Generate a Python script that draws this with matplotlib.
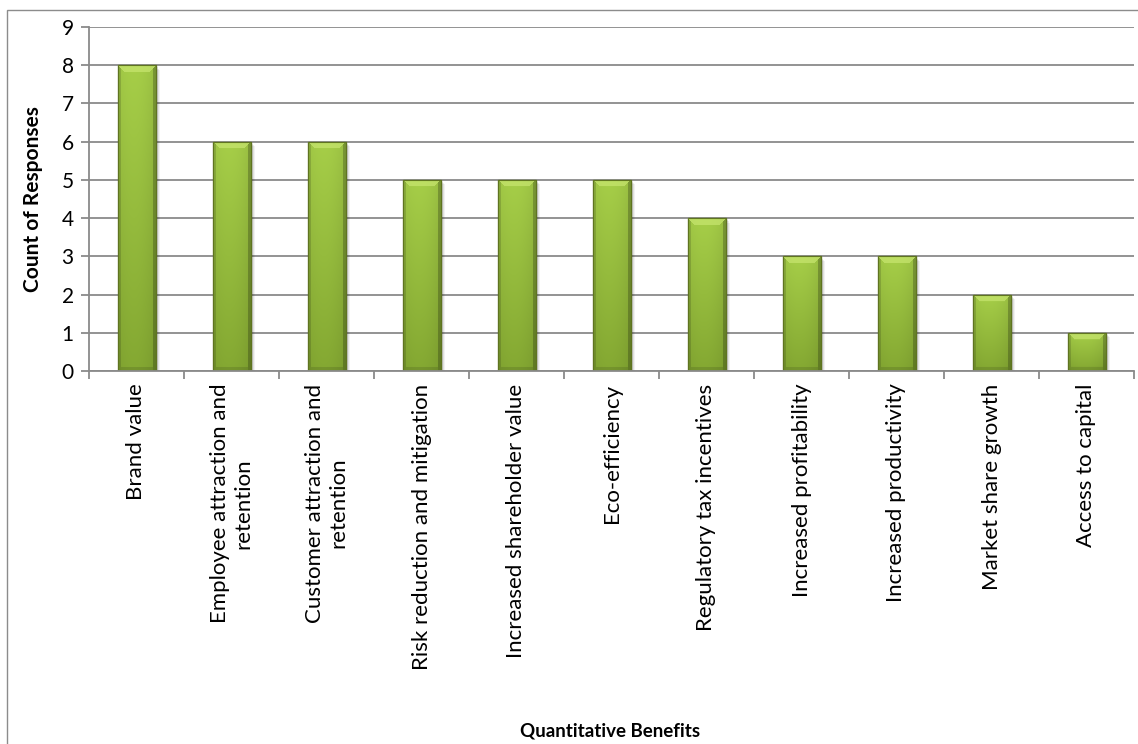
import numpy as np
import matplotlib
matplotlib.use("Agg")
import matplotlib.pyplot as plt
from matplotlib.transforms import offset_copy
from matplotlib.patches import Rectangle

plt.rcParams['font.family'] = ['Lato', 'DejaVu Sans']

categories = [
    "Brand value",
    "Employee attraction and\nretention",
    "Customer attraction and\nretention",
    "Risk reduction and mitigation",
    "Increased shareholder value",
    "Eco-efficiency",
    "Regulatory tax incentives",
    "Increased profitability",
    "Increased productivity",
    "Market share growth",
    "Access to capital",
]
counts = [8, 6, 6, 5, 5, 5, 4, 3, 3, 2, 1]
y_ticks = list(range(0, 10))

W, H = 1138, 744
fig = plt.figure(figsize=(W / 100, H / 100), dpi=100)
ax = fig.add_axes([89 / W, 1 - 371 / H, 1045 / W, 344 / H])

# outer chart border
fig.add_artist(Rectangle((7 / W, -0.01), 1.05, 1 - 10 / H + 0.01,
                         transform=fig.transFigure, fill=False,
                         edgecolor="#8c8c8c", linewidth=1.0))

x = np.arange(len(categories))
bar_w = 0.4
ax.set_xlim(-0.5, len(categories) - 0.5)
ax.set_ylim(0, 9)

# gridlines
for t in y_ticks:
    ax.axhline(t, color="#8a8a8a", linewidth=1.3, zorder=1)

px_per_unit_x = 1045 / len(categories)
px_per_unit_y = 344 / 9


def bar_image(wpx, hpx):
    """Bevelled, shaded fill for one column, built pixel by pixel."""
    wpx = max(int(round(wpx)), 2)
    hpx = max(int(round(hpx)), 2)
    cols = np.linspace(0, 1, wpx)
    rows = np.linspace(0, 1, hpx)
    top = np.array([166, 206, 72]) / 255
    bot = np.array([132, 168, 50]) / 255
    base = top[None, None, :] * (1 - rows[:, None, None]) + bot[None, None, :] * rows[:, None, None]
    base = np.broadcast_to(base, (hpx, wpx, 3)).copy()
    # gentle horizontal shading towards both edges
    shade = 1 - 0.08 * (np.abs(cols - 0.42) / 0.58) ** 2
    img = base * shade[None, :, None]
    b = 7  # bevel size in pixels
    ci = np.arange(wpx)
    ri = np.arange(hpx)
    dl = ci[None, :] * np.ones((hpx, 1))
    dr = (wpx - 1 - ci)[None, :] * np.ones((hpx, 1))
    dt = ri[:, None] * np.ones((1, wpx))
    db = (hpx - 1 - ri)[:, None] * np.ones((1, wpx))
    dmin = np.minimum(np.minimum(dl, dr), np.minimum(dt, db))
    inbev = dmin < b
    topface = inbev & (dt <= np.minimum(dl, dr)) & (dt <= db)
    side_b = 3  # thinner side bevels
    leftface = (dl < side_b) & ~topface
    rightface = (dr < side_b) & ~topface
    botface = (db < 4) & ~topface & ~leftface & ~rightface
    light = np.array([200, 230, 112]) / 255
    img[topface] = img[topface] * 0.3 + light * 0.7
    img[leftface] = img[leftface] * 0.86
    img[rightface] = img[rightface] * 0.78
    img[botface] = img[botface] * 0.88
    return np.clip(img, 0, 1)


for xi, v in zip(x, counts):
    # soft drop shadow
    for k, a in [(4, 0.05), (3, 0.07), (2, 0.09)]:
        tr = offset_copy(ax.transData, fig=fig, x=k * 0.8, y=-k * 0.8, units="points")
        ax.add_patch(Rectangle((xi - bar_w / 2, 0), bar_w, v, transform=tr,
                               facecolor="black", alpha=a, edgecolor="none", zorder=2))

bars = ax.bar(x, counts, width=bar_w, facecolor="#9cc43c",
              edgecolor="#5a6e1e", linewidth=0.9, zorder=3)

for rect, v in zip(bars, counts):
    x0 = rect.get_x()
    img = bar_image(bar_w * px_per_unit_x, v * px_per_unit_y)
    im = ax.imshow(img, extent=(x0, x0 + bar_w, 0, v), aspect="auto",
                   origin="upper", zorder=3.5, interpolation="bilinear")
    im.set_clip_path(rect)
    # outline on top of the fill
    ax.add_patch(Rectangle((x0, 0), bar_w, v, fill=False,
                           edgecolor="#5f7420", linewidth=0.8, zorder=4))

ax.set_xlim(-0.5, len(categories) - 0.5)
ax.set_ylim(0, 9)

for s in ["top", "right"]:
    ax.spines[s].set_visible(False)
for s in ["left", "bottom"]:
    ax.spines[s].set_color("#8a8a8a")
    ax.spines[s].set_linewidth(1.3)
    ax.spines[s].set_zorder(5)

ax.set_yticks(y_ticks)
ax.set_yticklabels([str(t) for t in y_ticks], fontsize=15)
ax.tick_params(axis="y", length=6, width=1.3, color="#8a8a8a", pad=5)

ax.set_xticks(x)
ax.set_xticklabels(categories, rotation=90, fontsize=16, ha="center",
                   va="top", multialignment="center")
ax.tick_params(axis="x", length=0, pad=9)
ax.set_xticks(np.arange(-0.5, len(categories) + 0.5, 1), minor=True)
ax.tick_params(axis="x", which="minor", length=6, width=1.3, color="#8a8a8a")

ax.set_ylabel("Count of Responses", fontsize=15, fontweight="bold")
ax.yaxis.set_label_coords(-46 / 1045, 0.5)
fig.text(610 / W, 1 - 731 / H, "Quantitative Benefits", fontsize=13.5,
         fontweight="bold", ha="center", va="center")

fig.savefig("out.png", dpi=100)
